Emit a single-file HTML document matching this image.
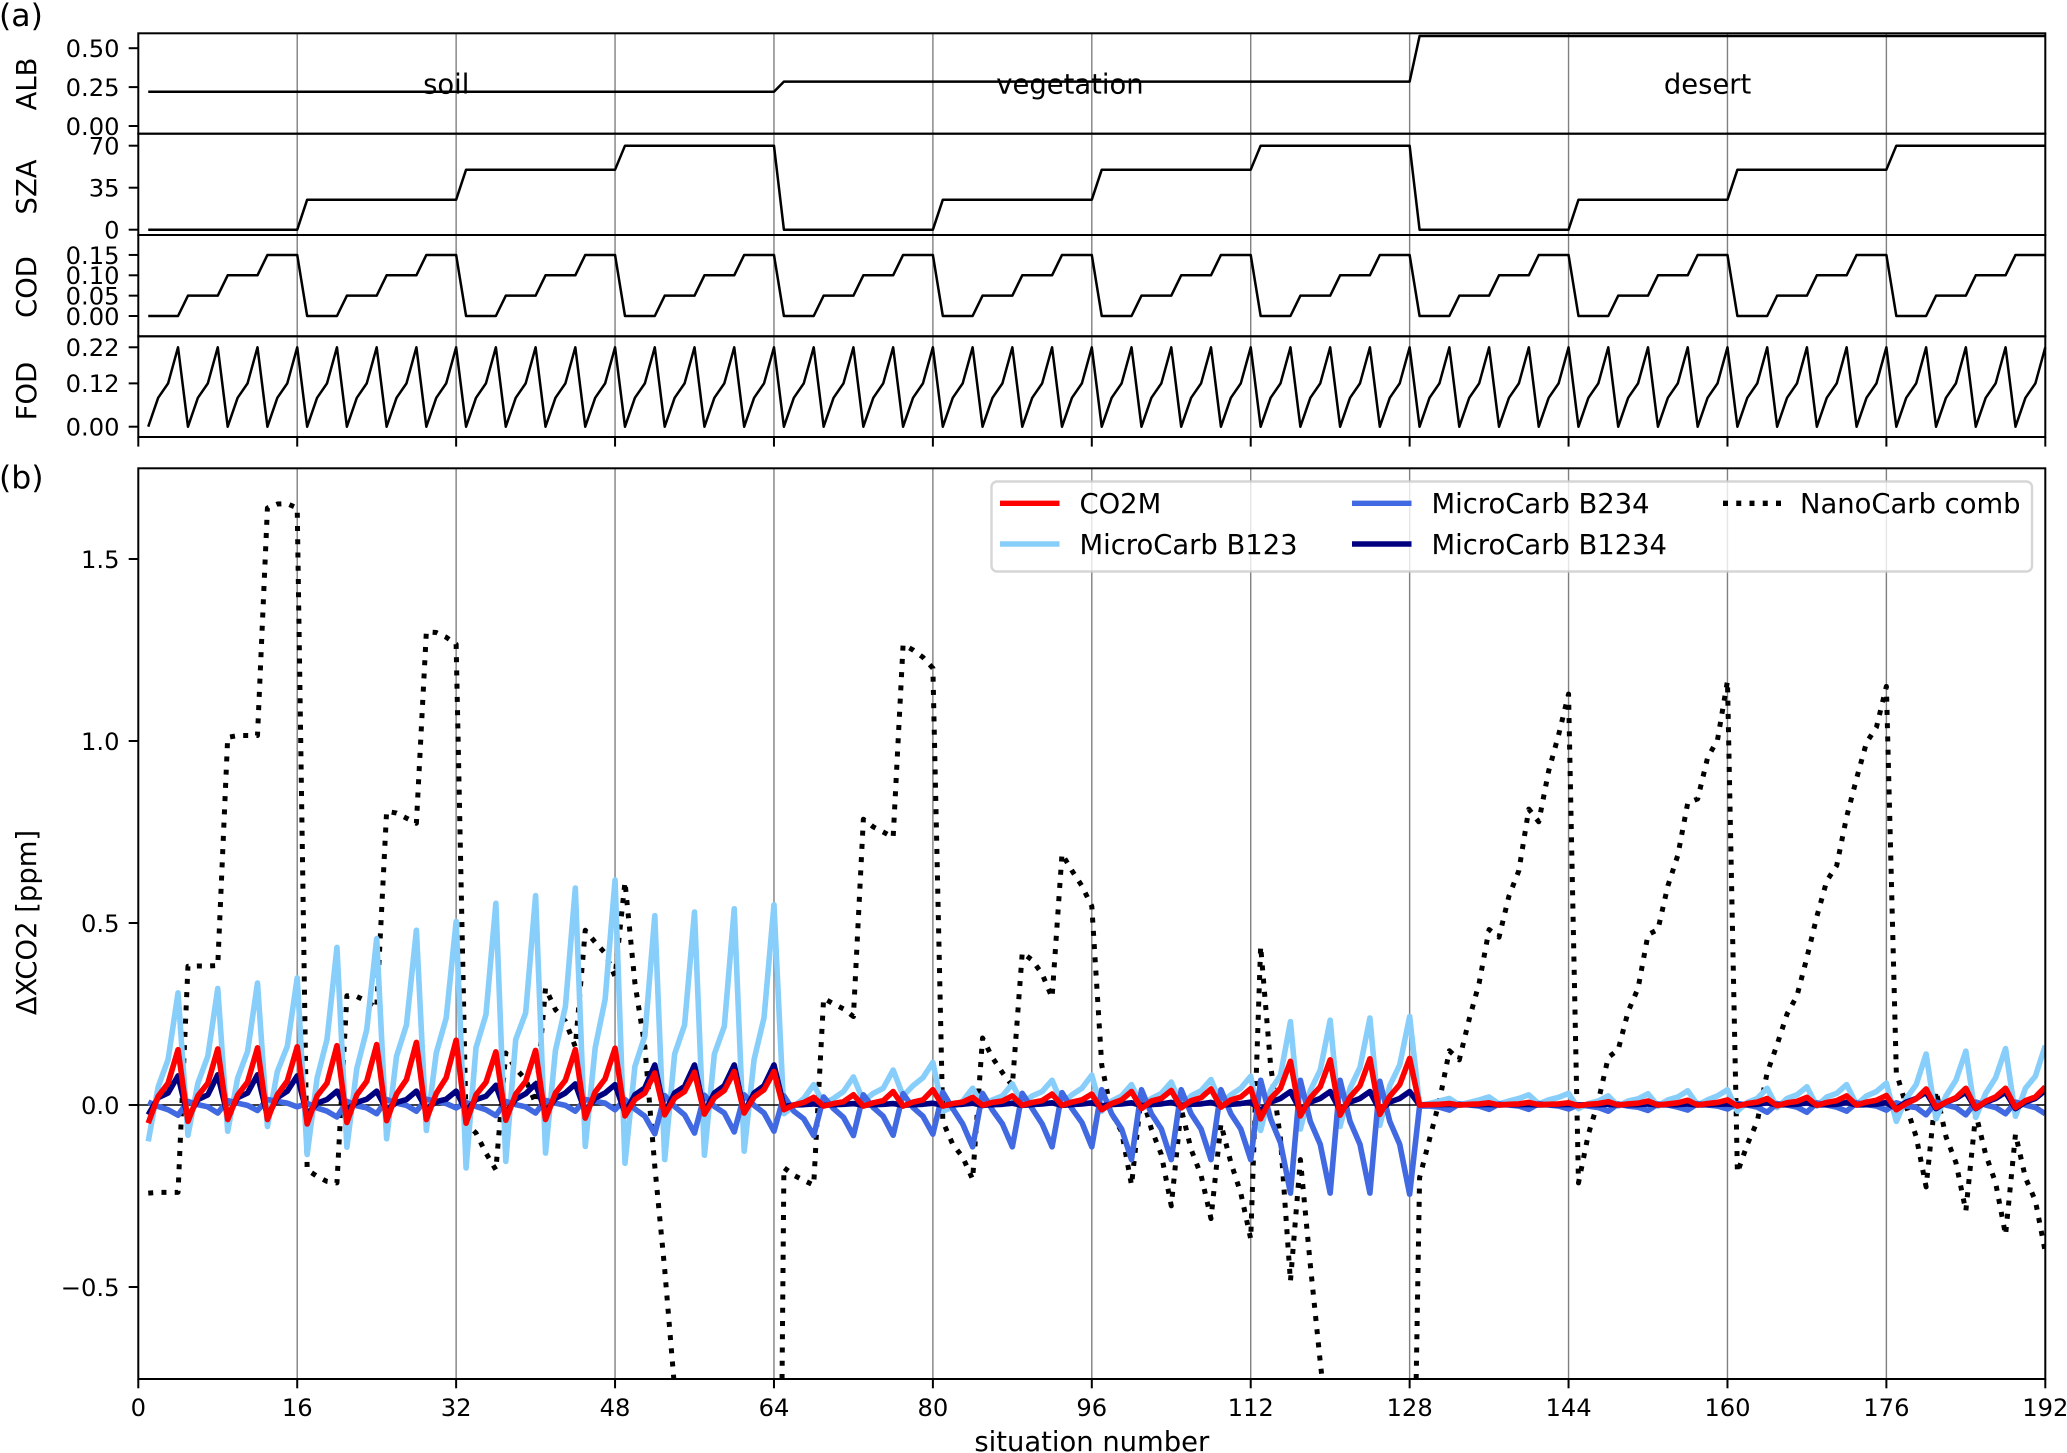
<!DOCTYPE html>
<html lang="en">
<head>
<meta charset="utf-8">
<title>Situation chart</title>
<style>
html,body{margin:0;padding:0;background:#fff;width:2067px;height:1453px;overflow:hidden;}
body{position:relative;}
svg{display:block;}
text{font-family:"DejaVu Sans","Liberation Sans",sans-serif;fill:#000;}
#x-title{position:absolute;left:891.8px;width:400px;top:1432.5px;height:20px;line-height:20px;font-size:27.4px;text-align:center;font-family:"DejaVu Sans","Liberation Sans",sans-serif;color:#000;white-space:nowrap;}
</style>
</head>
<body>
<svg id="chart" xmlns="http://www.w3.org/2000/svg" width="2067" height="1453" viewBox="0 0 2067 1453">
<defs><clipPath id="clip-b"><rect x="138.3" y="468.3" width="1907" height="911"/></clipPath></defs>
</svg>
<div id="x-title">situation number</div>
<script>
const albValues = [
.22,.22,.22,.22,.22,.22,.22,.22,.22,.22,.22,.22,.22,.22,.22,.22,
.22,.22,.22,.22,.22,.22,.22,.22,.22,.22,.22,.22,.22,.22,.22,.22,
.22,.22,.22,.22,.22,.22,.22,.22,.22,.22,.22,.22,.22,.22,.22,.22,
.22,.22,.22,.22,.22,.22,.22,.22,.22,.22,.22,.22,.22,.22,.22,.22,
.285,.285,.285,.285,.285,.285,.285,.285,.285,.285,.285,.285,.285,.285,.285,.285,
.285,.285,.285,.285,.285,.285,.285,.285,.285,.285,.285,.285,.285,.285,.285,.285,
.285,.285,.285,.285,.285,.285,.285,.285,.285,.285,.285,.285,.285,.285,.285,.285,
.285,.285,.285,.285,.285,.285,.285,.285,.285,.285,.285,.285,.285,.285,.285,.285,
.578,.578,.578,.578,.578,.578,.578,.578,.578,.578,.578,.578,.578,.578,.578,.578,
.578,.578,.578,.578,.578,.578,.578,.578,.578,.578,.578,.578,.578,.578,.578,.578,
.578,.578,.578,.578,.578,.578,.578,.578,.578,.578,.578,.578,.578,.578,.578,.578,
.578,.578,.578,.578,.578,.578,.578,.578,.578,.578,.578,.578,.578,.578,.578,.578];
const szaValues = [
0,0,0,0,0,0,0,0,0,0,0,0,0,0,0,0,
25,25,25,25,25,25,25,25,25,25,25,25,25,25,25,25,
50,50,50,50,50,50,50,50,50,50,50,50,50,50,50,50,
70,70,70,70,70,70,70,70,70,70,70,70,70,70,70,70,
0,0,0,0,0,0,0,0,0,0,0,0,0,0,0,0,
25,25,25,25,25,25,25,25,25,25,25,25,25,25,25,25,
50,50,50,50,50,50,50,50,50,50,50,50,50,50,50,50,
70,70,70,70,70,70,70,70,70,70,70,70,70,70,70,70,
0,0,0,0,0,0,0,0,0,0,0,0,0,0,0,0,
25,25,25,25,25,25,25,25,25,25,25,25,25,25,25,25,
50,50,50,50,50,50,50,50,50,50,50,50,50,50,50,50,
70,70,70,70,70,70,70,70,70,70,70,70,70,70,70,70];
const codValues = [
0,0,0,0,.05,.05,.05,.05,.1,.1,.1,.1,.15,.15,.15,.15,
0,0,0,0,.05,.05,.05,.05,.1,.1,.1,.1,.15,.15,.15,.15,
0,0,0,0,.05,.05,.05,.05,.1,.1,.1,.1,.15,.15,.15,.15,
0,0,0,0,.05,.05,.05,.05,.1,.1,.1,.1,.15,.15,.15,.15,
0,0,0,0,.05,.05,.05,.05,.1,.1,.1,.1,.15,.15,.15,.15,
0,0,0,0,.05,.05,.05,.05,.1,.1,.1,.1,.15,.15,.15,.15,
0,0,0,0,.05,.05,.05,.05,.1,.1,.1,.1,.15,.15,.15,.15,
0,0,0,0,.05,.05,.05,.05,.1,.1,.1,.1,.15,.15,.15,.15,
0,0,0,0,.05,.05,.05,.05,.1,.1,.1,.1,.15,.15,.15,.15,
0,0,0,0,.05,.05,.05,.05,.1,.1,.1,.1,.15,.15,.15,.15,
0,0,0,0,.05,.05,.05,.05,.1,.1,.1,.1,.15,.15,.15,.15,
0,0,0,0,.05,.05,.05,.05,.1,.1,.1,.1,.15,.15,.15,.15];
const fodValues = [
0,.08,.12,.22,0,.08,.12,.22,0,.08,.12,.22,0,.08,.12,.22,
0,.08,.12,.22,0,.08,.12,.22,0,.08,.12,.22,0,.08,.12,.22,
0,.08,.12,.22,0,.08,.12,.22,0,.08,.12,.22,0,.08,.12,.22,
0,.08,.12,.22,0,.08,.12,.22,0,.08,.12,.22,0,.08,.12,.22,
0,.08,.12,.22,0,.08,.12,.22,0,.08,.12,.22,0,.08,.12,.22,
0,.08,.12,.22,0,.08,.12,.22,0,.08,.12,.22,0,.08,.12,.22,
0,.08,.12,.22,0,.08,.12,.22,0,.08,.12,.22,0,.08,.12,.22,
0,.08,.12,.22,0,.08,.12,.22,0,.08,.12,.22,0,.08,.12,.22,
0,.08,.12,.22,0,.08,.12,.22,0,.08,.12,.22,0,.08,.12,.22,
0,.08,.12,.22,0,.08,.12,.22,0,.08,.12,.22,0,.08,.12,.22,
0,.08,.12,.22,0,.08,.12,.22,0,.08,.12,.22,0,.08,.12,.22,
0,.08,.12,.22,0,.08,.12,.22,0,.08,.12,.22,0,.08,.12,.22];
const co2mValues = [
-.05,.024,.06,.152,-.045,.025,.06,.154,-.04,.027,.063,.157,-.04,.028,.066,.16,
-.052,.025,.06,.163,-.048,.028,.065,.166,-.043,.03,.07,.172,-.04,.032,.075,.178,
-.05,.028,.062,.146,-.042,.03,.065,.15,-.04,.033,.068,.152,-.036,.036,.072,.156,
-.03,.015,.033,.088,-.027,.019,.037,.09,-.025,.02,.04,.092,-.022,.022,.042,.092,
-.013,0,.007,.021,-.003,.004,.009,.028,-.003,.006,.012,.037,-.003,.008,.014,.042,
-.003,.004,.008,.021,-.001,.007,.011,.025,-.001,.007,.012,.03,-.001,.008,.014,.03,
-.013,.004,.014,.037,-.01,.011,.018,.04,-.008,.012,.02,.044,-.006,.014,.022,.045,
-.038,.018,.046,.12,-.03,.02,.05,.124,-.028,.022,.053,.127,-.026,.024,.056,.128,
0,.001,.002,.004,0,.002,.003,.006,0,.002,.003,.007,.001,.002,.003,.006,
-.002,.002,.004,.009,0,.003,.005,.011,0,.003,.006,.013,0,.004,.007,.014,
-.003,.004,.008,.018,-.002,.006,.01,.021,-.001,.007,.012,.025,0,.008,.013,.026,
-.013,.004,.017,.044,-.007,.008,.02,.046,-.009,.01,.022,.046,-.007,.012,.022,.05];
const b123Values = [
-.1,.05,.125,.308,-.083,.06,.134,.32,-.072,.074,.147,.335,-.059,.092,.161,.349,
-.136,.074,.18,.433,-.116,.1,.207,.457,-.093,.134,.22,.48,-.07,.143,.239,.504,
-.173,.157,.248,.554,-.155,.18,.253,.575,-.132,.15,.27,.596,-.114,.157,.29,.618,
-.16,.106,.19,.52,-.15,.14,.22,.53,-.138,.14,.216,.539,-.127,.125,.24,.55,
-.024,-.003,.018,.056,.004,.018,.037,.077,.011,.032,.046,.096,.025,.053,.075,.117,
-.017,-.006,.011,.046,-.003,.014,.025,.058,.004,.025,.037,.068,.004,.028,.046,.082,
-.017,.011,.025,.056,-.003,.018,.032,.063,-.003,.025,.039,.07,.004,.028,.046,.079,
-.07,.04,.082,.229,-.066,.04,.096,.233,-.059,.046,.103,.239,-.056,.053,.11,.243,
0,.004,.011,.018,0,.007,.014,.022,.003,.011,.018,.028,.003,.014,.021,.032,
-.01,.004,.011,.025,-.003,.011,.017,.031,-.003,.014,.022,.039,0,.014,.025,.042,
-.017,.007,.018,.046,-.007,.018,.028,.05,-.003,.022,.032,.056,.001,.025,.037,.06,
-.045,.018,.056,.14,-.038,.025,.068,.148,-.034,.032,.075,.155,-.031,.046,.079,.163];
const b234Values = [
.008,-.004,-.013,-.028,.01,.001,-.005,-.022,.012,.005,-.001,-.015,.015,.01,.005,-.005,
.005,-.008,-.017,-.033,.01,-.002,-.008,-.024,.015,.005,-.001,-.017,.016,.01,.004,-.008,
.007,-.004,-.013,-.029,.01,.001,-.005,-.022,.013,.005,-.001,-.017,.015,.01,.005,-.013,
.015,-.011,-.031,-.079,.026,-.004,-.027,-.077,.027,-.004,-.022,-.074,.028,-.001,-.022,-.072,
.025,-.017,-.038,-.084,.022,-.01,-.034,-.084,.028,-.007,-.031,-.083,.031,-.007,-.031,-.08,
.035,-.01,-.052,-.115,.032,-.014,-.052,-.115,.032,-.01,-.052,-.115,.034,-.01,-.048,-.115,
.042,-.024,-.066,-.15,.042,-.024,-.066,-.15,.042,-.024,-.066,-.15,.042,-.024,-.066,-.15,
.068,-.038,-.104,-.242,.068,-.045,-.108,-.242,.068,-.045,-.108,-.242,.065,-.045,-.108,-.245,
-.003,-.003,-.006,-.014,.003,0,-.003,-.012,.003,0,-.003,-.012,.004,0,-.003,-.011,
.001,-.003,-.007,-.017,.003,-.003,-.006,-.015,.003,0,-.006,-.014,.004,0,-.003,-.011,
.004,0,-.006,-.02,.004,0,-.006,-.02,.006,0,-.006,-.017,.006,.001,-.003,-.014,
.006,-.003,-.007,-.027,.008,0,-.007,-.027,.008,0,-.007,-.024,.008,0,-.007,-.024];
const b1234Values = [
-.027,.02,.033,.08,-.035,.015,.028,.083,-.031,.02,.033,.083,-.031,.02,.038,.08,
-.027,.005,.015,.038,-.013,.007,.016,.038,-.013,.007,.015,.038,-.011,.009,.016,.038,
-.017,.015,.024,.054,-.022,.016,.031,.058,-.02,.018,.033,.058,-.018,.019,.033,.056,
-.022,.028,.047,.11,-.022,.033,.051,.11,-.02,.033,.053,.11,-.02,.033,.053,.11,
-.004,0,.001,.003,-.001,.001,.002,.004,-.001,.001,.002,.004,-.001,.001,.002,.005,
-.001,.001,.002,.005,-.001,.001,.002,.005,-.001,.001,.003,.006,-.001,.001,.003,.006,
-.002,.001,.003,.006,-.001,.001,.003,.007,-.001,.002,.003,.007,-.001,.002,.004,.008,
-.015,.008,.018,.037,-.015,.008,.018,.037,-.015,.008,.018,.037,-.015,.008,.018,.037,
0,.001,.001,.002,0,.001,.001,.002,0,.001,.001,.002,0,.001,.001,.002,
0,.001,.001,.002,0,.001,.001,.003,0,.001,.001,.003,0,.001,.002,.003,
0,.001,.002,.006,0,.001,.002,.006,0,.001,.002,.007,0,.001,.002,.007,
-.01,.008,.018,.035,-.01,.008,.018,.035,-.01,.008,.018,.035,-.01,.008,.018,.04];
const nanoValues = [
-.242,-.24,-.24,-.24,.381,.382,.382,.383,1.01,1.015,1.015,1.015,1.64,1.651,1.652,1.64,
-.178,-.196,-.21,-.214,.3,.298,.285,.266,.807,.802,.788,.774,1.3,1.298,1.285,1.266,
-.05,-.077,-.132,-.178,.143,.1,.07,.005,.321,.262,.23,.16,.48,.447,.417,.353,
.613,.335,.16,-.168,-.452,-.78,-1.05,-1.3,-1.55,-1.8,-2.05,-2.3,-2.55,-2.8,-3.05,-3.3,
-.172,-.193,-.207,-.22,.293,.278,.264,.243,.785,.764,.75,.735,1.265,1.25,1.23,1.2,
-.045,-.108,-.143,-.204,.184,.13,.089,.053,.419,.398,.36,.295,.69,.644,.602,.546,
.11,-.024,-.073,-.22,.032,-.066,-.136,-.277,-.01,-.122,-.193,-.312,-.052,-.158,-.242,-.368,
.436,.11,-.094,-.484,-.15,-.439,-.706,-.95,-1.05,-1.15,-1.25,-1.35,-1.45,-1.55,-1.65,-1.82,
-.2,-.094,.011,.149,.124,.236,.335,.482,.461,.574,.644,.813,.778,.918,1.017,1.129,
-.214,-.08,.011,.131,.152,.257,.321,.468,.482,.602,.686,.83,.841,.954,1.003,1.165,
-.186,-.108,-.045,.089,.166,.25,.3,.405,.518,.616,.658,.792,.897,.996,1.038,1.15,
.089,-.003,-.087,-.225,.039,-.087,-.158,-.291,-.024,-.136,-.214,-.357,-.08,-.2,-.263,-.404];

const xTicks = [0,16,32,48,64,80,96,112,128,144,160,176,192];
const albTicks = [0,0.25,0.5];
const albTickLabels = ['0.00','0.25','0.50'];
const szaTicks = [0,35,70];
const szaTickLabels = ['0','35','70'];
const codTicks = [0,0.05,0.1,0.15];
const codTickLabels = ['0.00','0.05','0.10','0.15'];
const fodTicks = [0,0.12,0.22];
const fodTickLabels = ['0.00','0.12','0.22'];
const yTicks = [-0.5,0,0.5,1,1.5];
const yTickLabels = ['\u22120.5','0.0','0.5','1.0','1.5'];
const surfaceNames = ['soil','vegetation','desert'];
const surfaceCenters = [31,93.8,158];

const L = 138.3, R = 2045.3;
const PLOT_TOP = 468.3, PLOT_BOTTOM = 1379;
const xScale = n => L + n * (R - L) / 192;
const yAlb = v => 126 - 155.6 * v;
const ySza = v => 229.7 - 1.2 * v;
const yCod = v => 316 - 407 * v;
const yFod = v => 426.7 - 361 * v;
const yMain = v => 1105 - 364 * v;

const svg = document.getElementById('chart');
const NS = 'http://www.w3.org/2000/svg';
function mk(tag, attrs, parent, text) {
  const el = document.createElementNS(NS, tag);
  for (const k in attrs) el.setAttribute(k, attrs[k]);
  if (text !== undefined) el.textContent = text;
  (parent || svg).appendChild(el);
  return el;
}
function pathFrom(values, yFn) {
  return values.map((v, i) => (i ? 'L' : 'M') + xScale(i + 1).toFixed(2) + ' ' + yFn(v).toFixed(2)).join('');
}
/* Builds a polyline cut at the plot's vertical limits, so off-scale points stay inside the axes. */
function clippedPathFrom(values, yFn, top, bottom) {
  let d = '';
  let penDown = false;
  for (let i = 0; i < values.length - 1; i++) {
    const x0 = xScale(i + 1), x1 = xScale(i + 2);
    const y0 = yFn(values[i]), y1 = yFn(values[i + 1]);
    if ((y0 > bottom && y1 > bottom) || (y0 < top && y1 < top)) { penDown = false; continue; }
    const at = y => x0 + (x1 - x0) * (y - y0) / (y1 - y0);
    const startOut = y0 > bottom || y0 < top;
    const endOut = y1 > bottom || y1 < top;
    const sy = y0 > bottom ? bottom : y0 < top ? top : y0;
    const ey = y1 > bottom ? bottom : y1 < top ? top : y1;
    const sx = startOut ? at(sy) : x0;
    const ex = endOut ? at(ey) : x1;
    if (!penDown) d += 'M' + sx.toFixed(2) + ' ' + sy.toFixed(2);
    d += 'L' + ex.toFixed(2) + ' ' + ey.toFixed(2);
    penDown = !endOut;
  }
  return d;
}

const panels = [
  {name:'alb', title:'ALB', top:33.3, bottom:133.7, y:yAlb, values:albValues, ticks:albTicks, labels:albTickLabels, ly:84},
  {name:'sza', title:'SZA', top:133.7, bottom:235, y:ySza, values:szaValues, ticks:szaTicks, labels:szaTickLabels, ly:187},
  {name:'cod', title:'COD', top:235, bottom:336.3, y:yCod, values:codValues, ticks:codTicks, labels:codTickLabels, ly:287},
  {name:'fod', title:'FOD', top:336.3, bottom:437, y:yFod, values:fodValues, ticks:fodTicks, labels:fodTickLabels, ly:391}
];

panels.forEach(p => {
  const g = mk('g', {});
  
  
  xTicks.slice(1, -1).forEach(t => {
    const gl = mk('line', {x1:xScale(t), x2:xScale(t), y1:p.top, y2:p.bottom, stroke:'#808080', 'stroke-width':1.4}, g);
    
    
  });
  if (p.name === 'alb') {
    surfaceNames.forEach((s, i) => {
      const t = mk('text', {x:xScale(surfaceCenters[i]), y:93.5, 'font-size':27.4, 'text-anchor':'middle'}, g, s);
      
      
    });
  }
  const line = mk('path', {d:pathFrom(p.values, p.y), fill:'none', stroke:'#000', 'stroke-width':2.5, 'stroke-linejoin':'round'}, g);
  
  
  p.ticks.forEach((t, i) => {
    const y = p.y(t);
    const tk = mk('line', {x1:L - 9.6, x2:L, y1:y, y2:y, stroke:'#000', 'stroke-width':2}, g);
    
    
    const lb = mk('text', {x:119.5, y:y + 8.8, 'font-size':24.2, 'text-anchor':'end'}, g, p.labels[i]);
    
    
  });
  const yl = mk('text', {transform:'translate(36 ' + p.ly + ') rotate(-90)', 'font-size':27.4, 'text-anchor':'middle'}, g, p.title);
  
  
  const fr = mk('rect', {x:L, y:p.top, width:R - L, height:p.bottom - p.top, fill:'none', stroke:'#000', 'stroke-width':2}, g);
  
  
});

xTicks.forEach(t => {
  const tk = mk('line', {x1:xScale(t), x2:xScale(t), y1:437, y2:446.6, stroke:'#000', 'stroke-width':2});
  
  
});

const main = mk('g', {});



xTicks.slice(1, -1).forEach(t => {
  const gl = mk('line', {x1:xScale(t), x2:xScale(t), y1:PLOT_TOP, y2:PLOT_BOTTOM, stroke:'#808080', 'stroke-width':1.4}, main);
  
  
});
const zero = mk('line', {x1:L, x2:R, y1:yMain(0), y2:yMain(0), stroke:'#000', 'stroke-width':1.4}, main);



const seriesGroup = mk('g', {'clip-path':'url(#clip-b)'}, main);



const nanoLine = mk('path', {d:clippedPathFrom(nanoValues, yMain, PLOT_TOP, PLOT_BOTTOM), fill:'none', stroke:'#000', 'stroke-width':5, 'stroke-dasharray':'5 8.25', 'stroke-linejoin':'round'}, seriesGroup);


const b123Line = mk('path', {d:pathFrom(b123Values, yMain), fill:'none', stroke:'#87cefa', 'stroke-width':5.6, 'stroke-linejoin':'round'}, seriesGroup);


const b234Line = mk('path', {d:pathFrom(b234Values, yMain), fill:'none', stroke:'#4169e1', 'stroke-width':5.6, 'stroke-linejoin':'round'}, seriesGroup);


const b1234Line = mk('path', {d:pathFrom(b1234Values, yMain), fill:'none', stroke:'#000080', 'stroke-width':5.6, 'stroke-linejoin':'round'}, seriesGroup);


const co2mLine = mk('path', {d:pathFrom(co2mValues, yMain), fill:'none', stroke:'#ff0000', 'stroke-width':5.6, 'stroke-linejoin':'round'}, seriesGroup);



yTicks.forEach((t, i) => {
  const y = yMain(t);
  const tk = mk('line', {x1:L - 9.6, x2:L, y1:y, y2:y, stroke:'#000', 'stroke-width':2}, main);
  
  
  const lb = mk('text', {x:119.5, y:y + 8.8, 'font-size':24.2, 'text-anchor':'end'}, main, yTickLabels[i]);
  
  
});
xTicks.forEach(t => {
  const x = xScale(t);
  const tk = mk('line', {x1:x, x2:x, y1:PLOT_BOTTOM, y2:1388.3, stroke:'#000', 'stroke-width':2}, main);
  
  
  const lb = mk('text', {x:x, y:1416, 'font-size':24.2, 'text-anchor':'middle'}, main, String(t));
  
  
});
const frameB = mk('rect', {x:L, y:PLOT_TOP, width:R - L, height:PLOT_BOTTOM - PLOT_TOP, fill:'none', stroke:'#000', 'stroke-width':2}, main);



const yTitle = mk('text', {transform:'translate(36 922.5) rotate(-90)', 'font-size':27.4, 'text-anchor':'middle'}, main, '\u0394XCO2 [ppm]');



const labelA = mk('text', {x:-1, y:26, 'font-size':31.5}, svg, '(a)');


const labelB = mk('text', {x:-1, y:488, 'font-size':31.5}, svg, '(b)');



const legend = mk('g', {});


const legendBox = mk('rect', {x:991.5, y:481.5, width:1040.5, height:90, rx:5.5, ry:5.5, fill:'#fff', 'fill-opacity':0.8, stroke:'#ccc', 'stroke-opacity':0.8, 'stroke-width':2.4}, legend);



const legendNames = ['CO2M','MicroCarb B123','MicroCarb B234','MicroCarb B1234','NanoCarb comb'];
const legendColors = ['#ff0000','#87cefa','#4169e1','#000080','#000'];
const legendCols = [1000,1000,1352,1352,1723];
const legendRows = [503.3,544,503.3,544,503.3];
legendNames.forEach((nm, i) => {
  const h = mk('line', {x1:legendCols[i], x2:legendCols[i] + 59.5, y1:legendRows[i], y2:legendRows[i], stroke:legendColors[i], 'stroke-width':5.4}, legend);
  if (i === 4) h.setAttribute('stroke-dasharray', '5 8.25');
  
  
  const t = mk('text', {x:legendCols[i] + (i === 4 ? 77 : 79.5), y:legendRows[i] + 9.8, 'font-size':27.4}, legend, nm);
  
  
});
</script>
</body>
</html>
